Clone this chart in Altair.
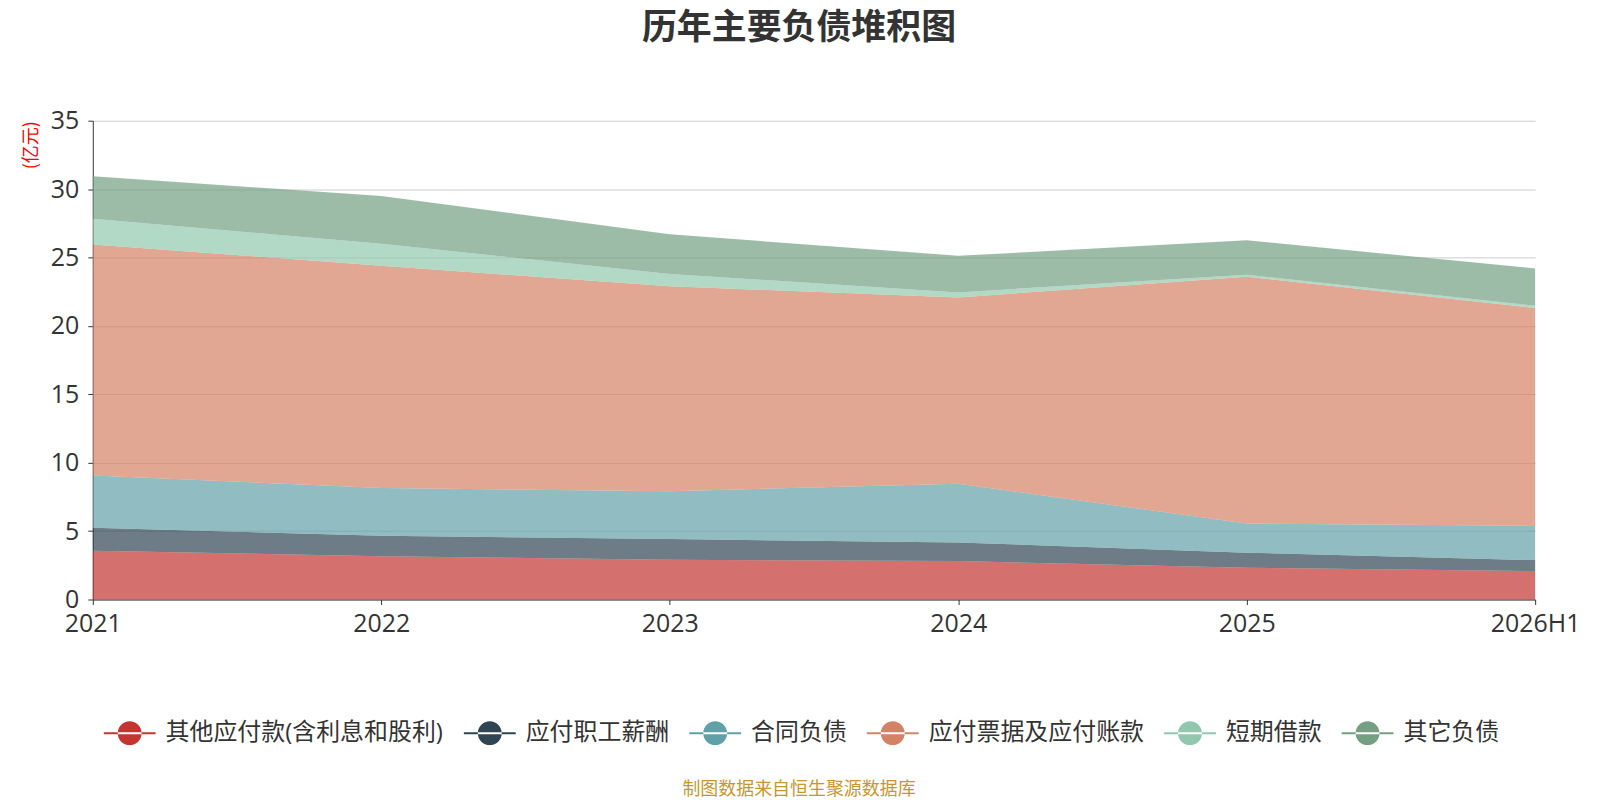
import altair as alt
import pandas as pd

# 历年主要负债 (亿元)
years = ["2021", "2022", "2023", "2024", "2025", "2026H1"]
series = ["其他应付款(含利息和股利)", "应付职工薪酬", "合同负债", "应付票据及应付账款", "短期借款", "其它负债"]
colors = ["#c23531", "#2f4554", "#61a0a8", "#d48265", "#91c7ae", "#749f83"]

other_payables = [3.56, 3.17, 2.91, 2.81, 2.32, 2.08]
staff_pay = [1.68, 1.49, 1.51, 1.36, 1.10, 0.80]
contract_liab = [3.82, 3.49, 3.50, 4.30, 2.13, 2.50]
notes_accounts = [16.89, 16.25, 14.98, 13.61, 18.04, 15.93]
short_loans = [1.89, 1.60, 0.90, 0.37, 0.15, 0.17]
other_liab = [3.10, 3.50, 2.90, 2.67, 2.52, 2.72]

values = [other_payables, staff_pay, contract_liab, notes_accounts, short_loans, other_liab]

rows = []
for rank, (name, vals) in enumerate(zip(series, values)):
    for year, v in zip(years, vals):
        rows.append({"year": year, "name": name, "value": v, "rank": rank})
df = pd.DataFrame(rows)

FONT = "Open Sans, Noto Sans CJK SC"
CJK = "Noto Sans CJK SC"
W, H = 1446, 480

# line with a dot, like the echarts legend icon
icon = (
    "M-1,-0.04L1,-0.04L1,0.04L-1,0.04Z "
    "M-0.46,0A0.46,0.46 0 1,0 0.46,0A0.46,0.46 0 1,0 -0.46,0Z"
)

areas = alt.Chart(df).mark_area(opacity=0.7, interpolate="linear").encode(
    x=alt.X("year:O")
    .sort(years)
    .scale(type="point", padding=0)
    .axis(
        labelAngle=0,
        labelFont=FONT,
        labelFontSize=25,
        labelColor="#333",
        labelPadding=7,
        domainColor="#333",
        tickColor="#333",
        tickSize=5,
        grid=False,
        title=None,
    ),
    y=alt.Y("value:Q")
    .stack("zero")
    .scale(domain=[0, 35], nice=False)
    .axis(
        values=[0, 5, 10, 15, 20, 25, 30, 35],
        labelFont=FONT,
        labelFontSize=25,
        labelColor="#333",
        labelPadding=9,
        domainColor="#333",
        tickColor="#333",
        tickSize=5,
        gridColor="#cccccc",
        title="(亿元)",
        titleFont=CJK,
        titleColor="#ff0000",
        titleFontSize=18,
        titleFontWeight="normal",
        titleAngle=-90,
        titleAlign="right",
        titleBaseline="middle",
        titleX=-61,
        titleY=0,
    ),
    color=alt.Color("name:N")
    .scale(domain=series, range=colors)
    .legend(
        orient="none",
        direction="horizontal",
        legendX=11,
        legendY=588,
        title=None,
        symbolType=icon,
        symbolSize=2700,
        symbolStrokeWidth=0,
        symbolOpacity=1,
        labelFont=FONT,
        labelFontSize=24,
        labelColor="#333",
        labelOffset=10,
        columnPadding=20,
        labelLimit=400,
    ),
    order=alt.Order("rank:Q", sort="ascending"),
)

footer = alt.Chart(pd.DataFrame({"t": ["制图数据来自恒生聚源数据库"]})).mark_text(
    font=CJK, fontSize=18, color="#c8962d", align="center", baseline="middle"
).encode(text="t:N", x=alt.value(W / 2 - 15), y=alt.value(H + 191))

chart = (
    alt.layer(areas, footer)
    .properties(
        width=W,
        height=H,
        title=alt.TitleParams(
            "历年主要负债堆积图",
            fontSize=35,
            fontWeight="bold",
            color="#333",
            font=CJK,
            anchor="middle",
            frame="group",
            offset=63,
            dx=-15,
        ),
        autosize=alt.AutoSizeParams(type="none"),
        padding={"left": 85, "top": 112, "right": 57, "bottom": 202},
    )
    .configure(font=FONT)
    .configure_view(stroke=None)
)

chart.save("out.html", embed_options={"renderer": "svg", "actions": False})
